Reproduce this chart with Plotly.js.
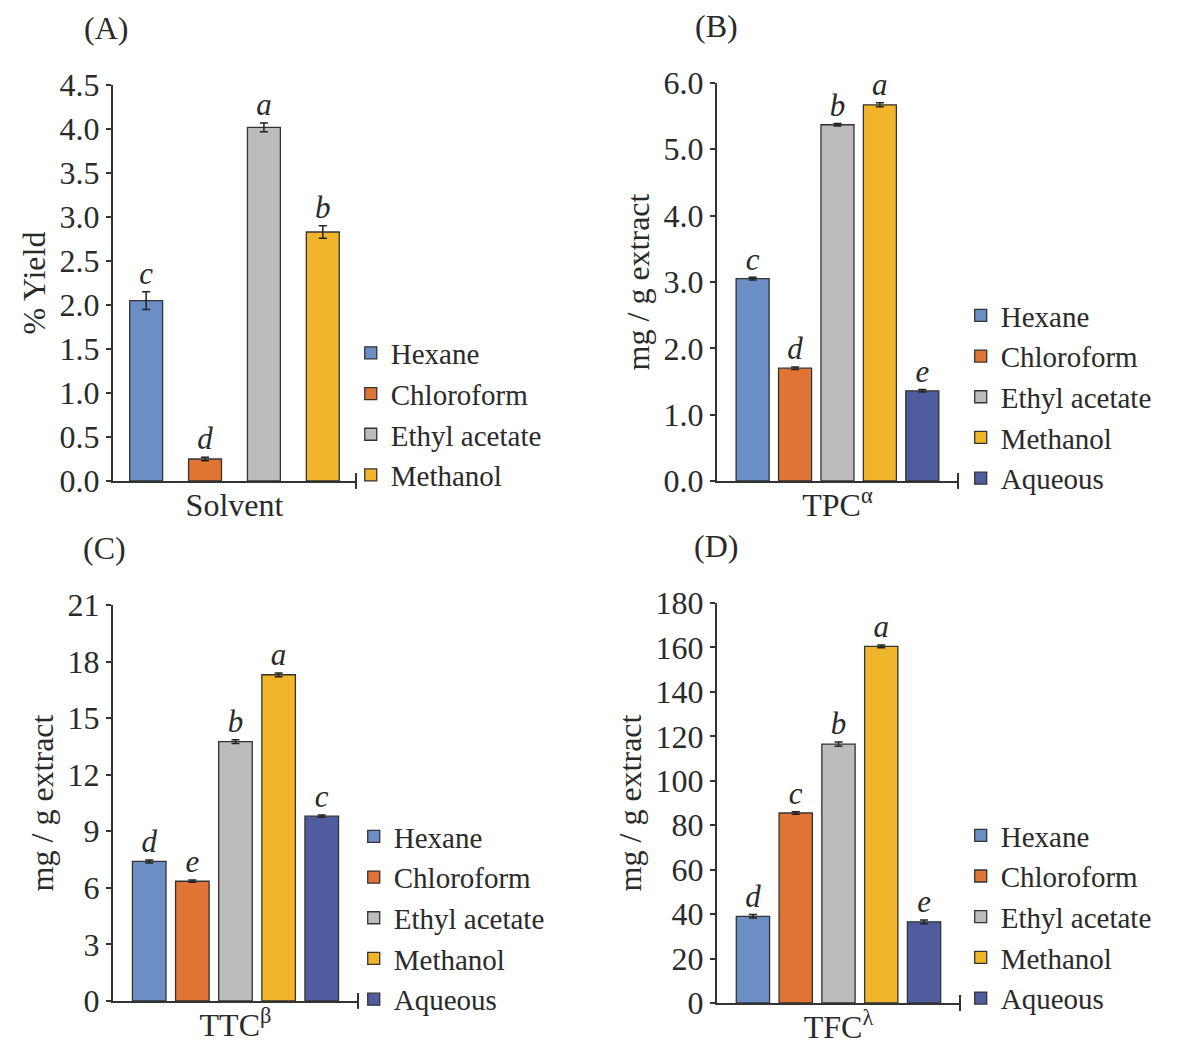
<!DOCTYPE html>
<html>
<head>
<meta charset="utf-8">
<script src="https://cdn.plot.ly/plotly-3.0.1.min.js"></script>
<style>html,body{margin:0;padding:0;background:#fff}#chart{width:1189px;height:1050px}</style>
</head>
<body>
<div id="chart"></div>
<script>
// ---- data ----
const solvents = ['Hexane', 'Chloroform', 'Ethyl acetate', 'Methanol', 'Aqueous'];
const panelLabels = ['(A)', '(B)', '(C)', '(D)'];
const categoriesX = ['Solvent', 'TPC<sup>α</sup>', 'TTC<sup>β</sup>', 'TFC<sup>λ</sup>'];
const yTitles = ['% Yield', 'mg / g extract', 'mg / g extract', 'mg / g extract'];

const yieldA = [2.05, 0.25, 4.02, 2.83];
const yieldErrA = [0.10, 0.02, 0.05, 0.07];
const lettersA = ['c', 'd', 'a', 'b'];

const tpcB = [3.05, 1.70, 5.37, 5.67, 1.36];
const tpcErrB = [0.02, 0.02, 0.02, 0.03, 0.02];
const lettersB = ['c', 'd', 'b', 'a', 'e'];

const ttcC = [7.40, 6.35, 13.75, 17.30, 9.80];
const ttcErrC = [0.08, 0.06, 0.10, 0.10, 0.06];
const lettersC = ['d', 'e', 'b', 'a', 'c'];

const tfcD = [39.0, 85.5, 116.5, 160.5, 36.5];
const tfcErrD = [0.8, 0.6, 1.0, 0.6, 0.8];
const lettersD = ['d', 'c', 'b', 'a', 'e'];

const yTickVals = [
  [0, 0.5, 1.0, 1.5, 2.0, 2.5, 3.0, 3.5, 4.0, 4.5],
  [0, 1, 2, 3, 4, 5, 6],
  [0, 3, 6, 9, 12, 15, 18, 21],
  [0, 20, 40, 60, 80, 100, 120, 140, 160, 180]
];
const yTickText = [
  ['0.0', '0.5', '1.0', '1.5', '2.0', '2.5', '3.0', '3.5', '4.0', '4.5'],
  ['0.0', '1.0', '2.0', '3.0', '4.0', '5.0', '6.0'],
  ['0', '3', '6', '9', '12', '15', '18', '21'],
  ['0', '20', '40', '60', '80', '100', '120', '140', '160', '180']
];

// ---- style ----
const colors = ['#6b8fc4', '#e07434', '#bcbcbc', '#f0b52a', '#4f5d9f'];
const FONT = 'Liberation Serif, Times New Roman, serif';
const TXT = '#2a2a2a';
const FS = 32;
const LFS = 29;

const panels = [
  {vals: yieldA, errs: yieldErrA, letters: lettersA, yr: [0, 4.5], xr: [-0.454, 0.454], bw: 0.123,
   xd: [0.0950, 0.2994], yd: [0.5419, 0.9190], leg: {x: 0.295, y: 0.6057}, lab: 0.0891},
  {vals: tpcB, errs: tpcErrB, letters: lettersB, yr: [0, 6], xr: [-0.5, 0.5], bw: 0.137,
   xd: [0.6030, 0.8057], yd: [0.5419, 0.9210], leg: {x: 0.808, y: 0.6219}, lab: 0.6030},
  {vals: ttcC, errs: ttcErrC, letters: lettersC, yr: [0, 21], xr: [-0.5, 0.5], bw: 0.137,
   xd: [0.0950, 0.3011], yd: [0.0467, 0.4238], leg: {x: 0.2975, y: 0.1257}, lab: 0.0883},
  {vals: tfcD, errs: tfcErrD, letters: lettersD, yr: [0, 180], xr: [-0.5, 0.5], bw: 0.137,
   xd: [0.6030, 0.8074], yd: [0.0448, 0.4257], leg: {x: 0.808, y: 0.1267}, lab: 0.6022}
];

const traces = [];
const layout = {
  width: 1189, height: 1050,
  margin: {l: 0, r: 0, t: 0, b: 0},
  paper_bgcolor: '#fff', plot_bgcolor: '#fff',
  font: {family: FONT, size: FS, color: TXT},
  barmode: 'group', bargap: 0.12, bargroupgap: 0.22,
  scattermode: 'group', scattergap: 0.12,
  showlegend: true,
  annotations: [], shapes: []
};

panels.forEach((p, k) => {
  const n = k + 1;
  const xa = n === 1 ? 'x' : 'x' + n;
  const ya = n === 1 ? 'y' : 'y' + n;
  const legName = n === 1 ? 'legend' : 'legend' + n;
  p.vals.forEach((v, i) => {
    traces.push({
      type: 'bar', name: solvents[i],
      x: [categoriesX[k]], y: [v],
      width: p.bw,
      offsetgroup: 'o' + i, alignmentgroup: 'ag' + n,
      error_y: {type: 'data', array: [p.errs[i]], visible: true, color: '#222', thickness: 1.5, width: 4},
      marker: {color: colors[i], line: {color: '#333', width: 1.3}},
      xaxis: xa, yaxis: ya, legend: legName, legendgroup: 'g' + n + '_' + i,
      hoverinfo: 'skip'
    });
  });
  // significance letters sitting on top of each bar + error
  p.vals.forEach((v, i) => {
    traces.push({
      type: 'scatter', mode: 'text', showlegend: false,
      x: [categoriesX[k]], y: [v + p.errs[i]],
      offsetgroup: 'o' + i, alignmentgroup: 'ag' + n,
      text: ['<i>' + p.letters[i] + '</i>'], textposition: 'top center', cliponaxis: false,
      textfont: {family: FONT, size: 31, color: TXT},
      xaxis: xa, yaxis: ya, hoverinfo: 'skip'
    });
  });
  layout['xaxis' + (n === 1 ? '' : n)] = {
    domain: p.xd, anchor: ya, type: 'category', range: p.xr,
    showline: true, linecolor: '#333', linewidth: 2, ticks: '', showgrid: false, zeroline: false,
    ticklabelstandoff: -5,
    tickfont: {family: FONT, size: FS, color: TXT}, fixedrange: true
  };
  layout['yaxis' + (n === 1 ? '' : n)] = {
    domain: p.yd, anchor: xa, range: p.yr,
    tickvals: yTickVals[k], ticktext: yTickText[k],
    showline: true, linecolor: '#333', linewidth: 2, ticks: 'outside', ticklen: 5, tickwidth: 2, tickcolor: '#333',
    showgrid: false, zeroline: false,
    tickfont: {family: FONT, size: FS, color: TXT},
    title: {text: yTitles[k], font: {family: FONT, size: FS, color: TXT}, standoff: 4}, fixedrange: true
  };
  // inner half of the crossing ticks
  layout['yaxis' + (n + 4)] = {
    overlaying: ya, anchor: xa, range: p.yr, side: 'left',
    tickvals: yTickVals[k], showticklabels: false,
    showline: false, ticks: 'inside', ticklen: 5, tickwidth: 2, tickcolor: '#333',
    showgrid: false, zeroline: false, fixedrange: true
  };
  layout[legName] = {
    x: p.leg.x, y: p.leg.y, xanchor: 'left', yanchor: 'middle',
    bgcolor: 'rgba(0,0,0,0)', font: {family: FONT, size: LFS, color: TXT},
    itemwidth: 30, tracegroupgap: 0, itemclick: false, itemdoubleclick: false
  };
  // right-end tick on x axis
  layout.shapes.push({
    type: 'line', xref: xa + ' domain', yref: ya + ' domain',
    x0: 1, x1: 1, y0: -0.02, y1: 0.02, line: {color: '#333', width: 2}
  });
  // panel label
  layout.annotations.push({
    text: panelLabels[k], xref: 'paper', yref: 'paper',
    x: p.lab, y: p.yd[1] + 0.054, xanchor: 'center', yanchor: 'middle',
    showarrow: false, font: {family: FONT, size: FS, color: TXT}
  });
});

Plotly.newPlot('chart', traces, layout, {displayModeBar: false, staticPlot: true});
</script>
</body>
</html>
